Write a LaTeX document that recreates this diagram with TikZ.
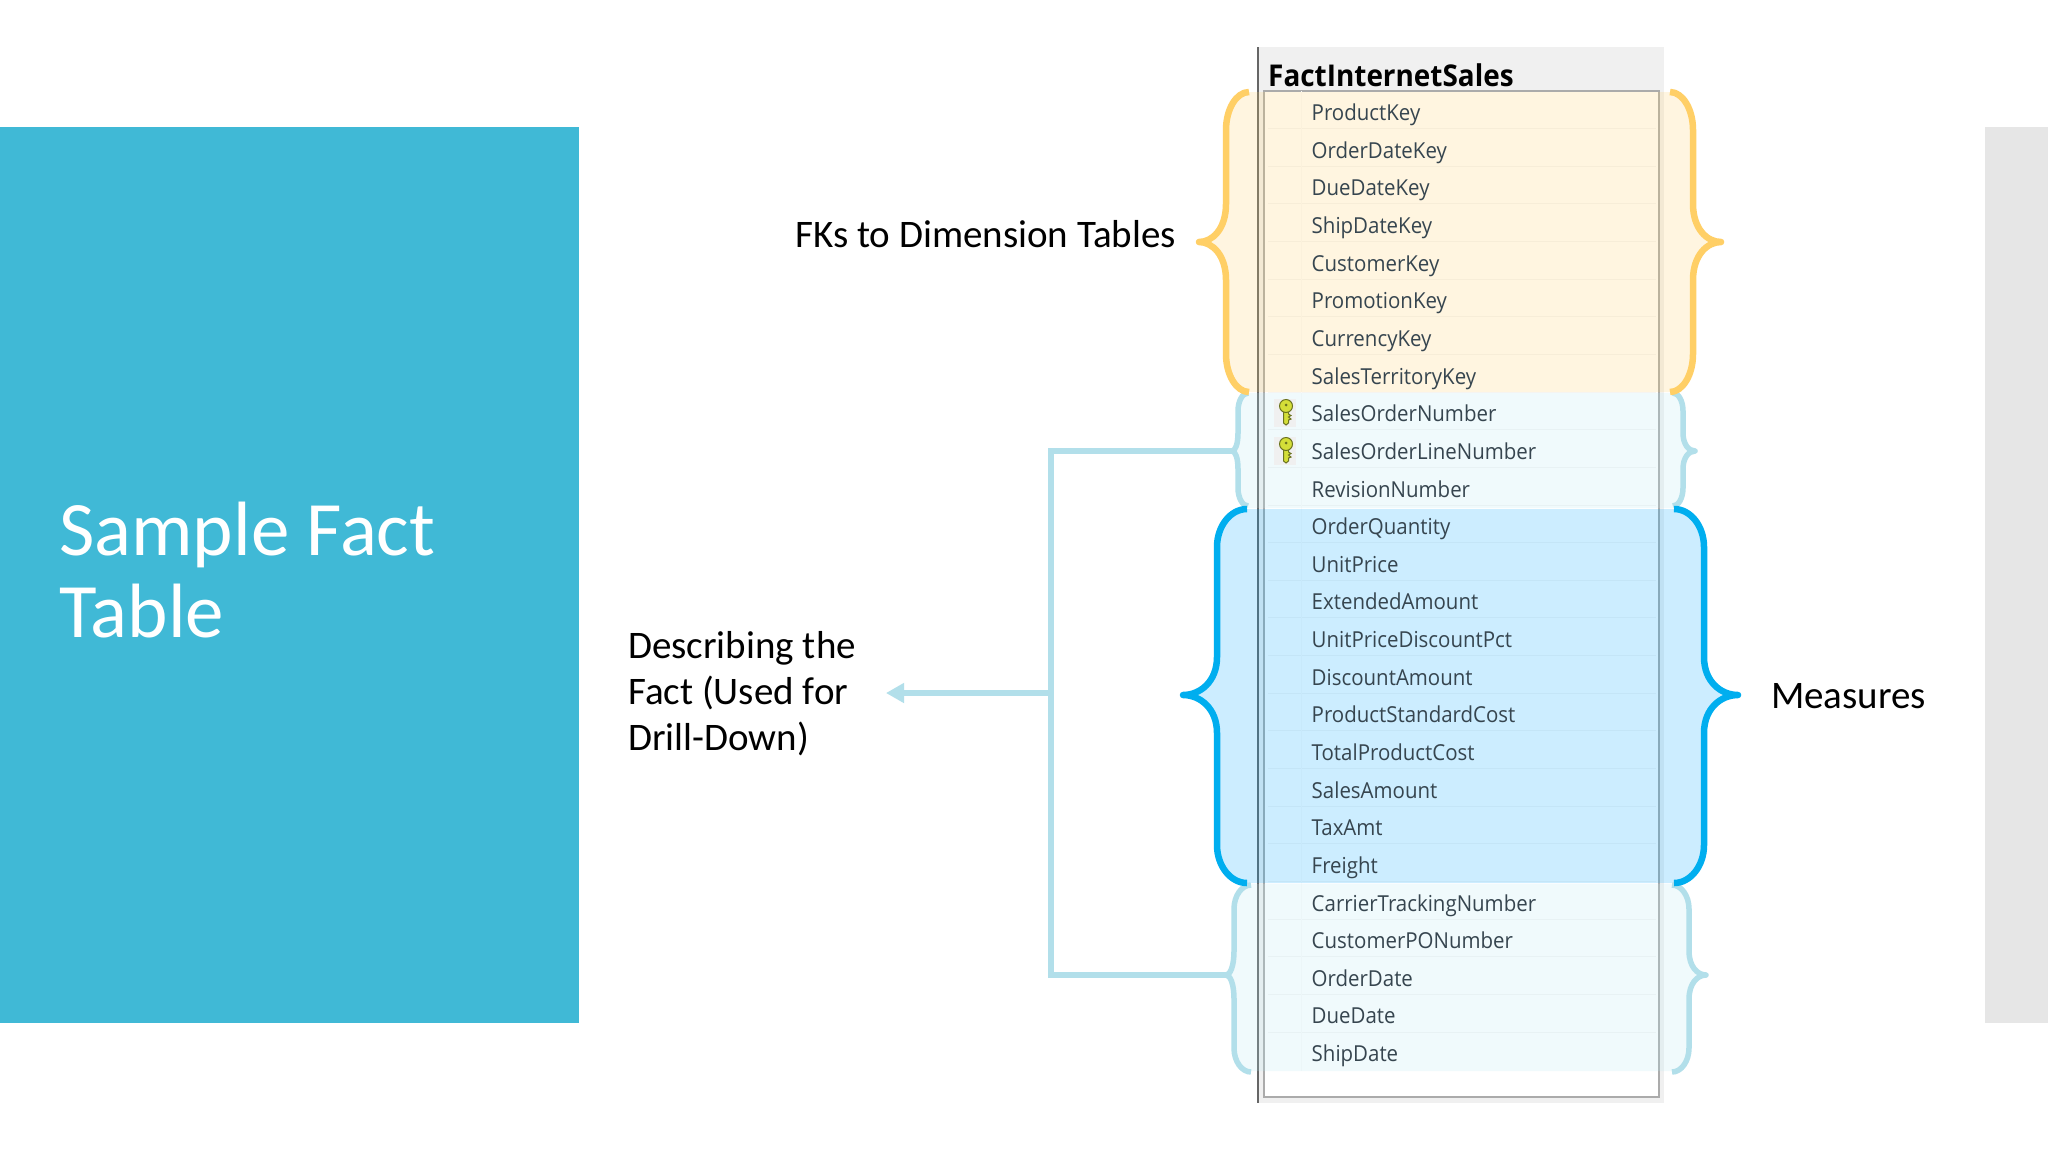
\documentclass[tikz,border=0pt]{standalone}
\usepackage{fontspec}
\setmainfont{Carlito}
\newfontfamily\tablefont[FakeStretch=0.93]{Open Sans}
\usetikzlibrary{arrows.meta}
\definecolor{teal1}{HTML}{40B9D6}
\definecolor{sidegray}{HTML}{E6E6E6}
\definecolor{hdrgray}{HTML}{F0F0F0}
\definecolor{framegray}{HTML}{ABABAB}
\definecolor{oran}{HTML}{FFCF66}
\definecolor{lblue}{HTML}{B2DFEA}
\definecolor{lbluefill}{HTML}{B4E8F3}
\definecolor{sblue}{HTML}{00AEEF}
\definecolor{sbluefill}{HTML}{00A8FF}
\definecolor{rowtxt}{HTML}{36454F}
\definecolor{keyfill}{HTML}{D4DE38}
\definecolor{keyline}{HTML}{6B7320}
% xe, xv, xt, yt, ym, yb, r : from the top end, past the tip, to the bottom end
\newcommand{\bracefrag}[7]{%
 ({#1},{#4}) .. controls ({#1+0.55*(#2-#1)},{#4}) and ({#2},{#4+0.45*(#7)}) .. ({#2},{#4+(#7)})
 -- ({#2},{#5-(#7)}) .. controls ({#2},{#5-0.35*(#7)}) and ({#3+0.5*(#2-#3)},{#5}) .. ({#3},{#5})
 .. controls ({#3+0.5*(#2-#3)},{#5}) and ({#2},{#5+0.35*(#7)}) .. ({#2},{#5+(#7)})
 -- ({#2},{#6-(#7)}) .. controls ({#2},{#6-0.45*(#7)}) and ({#1+0.55*(#2-#1)},{#6}) .. ({#1},{#6})}
\tikzset{
  x=1pt,y=-1pt,
  band/.style={fill=#1,fill opacity=.2,draw=none},
  brace/.style={draw=#1,line width=6.5pt,line cap=butt,line join=round},
  thinbrace/.style={draw=#1,line width=5.5pt,line cap=butt,line join=round},
  rowlabel/.style={anchor=base west,inner sep=0,text=rowtxt,font=\tablefont\fontsize{22}{26}\selectfont},
  biglabel/.style={anchor=base west,inner sep=0,text=black,font=\fontsize{39}{46}\selectfont},
  conn/.style={draw=lblue,line width=5.5pt,line join=miter},
  keybg/.style={fill=black!6,draw=none,minimum width=22pt,minimum height=28pt,inner sep=0},
  pics/keyicon/.style={code={
    \fill[keyfill,draw=keyline,line width=1pt] (-2.5,-1) -- (-2.5,12) -- (0,14) -- (2.5,12) -- (2.5,9) -- (5,8) -- (2.5,6) -- (5,4.5) -- (2.5,3) -- (2.5,-1) -- cycle;
    \fill[keyfill,draw=keyline,line width=1pt] (0,-5) circle[radius=6.5];
    \fill[keyline] (0,-6) circle[radius=1.5];
  }}
}
\begin{document}
\begin{tikzpicture}
\useasboundingbox (0,0) rectangle (2048,1152);
\fill[white] (0,0) rectangle (2048,1152);
\fill[teal1] (0,127) rectangle (579,1023);
\fill[sidegray] (1985,127) rectangle (2048,1023);
\node[anchor=base west,inner sep=0,text=white,font=\fontsize{77}{82}\selectfont] (titleA) at (59,555) {Sample Fact};
\node[anchor=base west,inner sep=0,text=white,font=\fontsize{77}{82}\selectfont] (titleB) at (59,637) {Table};

% table frame
\fill[hdrgray] (1258,47) rectangle (1664,1103);
\fill[white,draw=framegray,line width=1.3pt] (1264,91) rectangle (1659,1097);
\draw[black!60,line width=1.4pt] (1258,47) -- (1258,1103);
\foreach \i in {1,...,25}{
  \draw[black!4,line width=1pt] (1268,{91+37.64*\i}) -- (1656,{91+37.64*\i});
}
\draw[black!2,line width=1pt] (1301,91) -- (1301,1071);
\node[anchor=base west,inner sep=0,text=black,font=\tablefont\bfseries\fontsize{30}{32}\selectfont] (hdr) at (1268,86) {FactInternetSales};

% bands
\fill[band=oran] \bracefrag{1249}{1226}{1199}{92}{242}{392}{38} -- \bracefrag{1670}{1693}{1721}{392}{242}{92}{-38} -- cycle;
\fill[band=lbluefill] \bracefrag{1248}{1238}{1232}{393}{451}{508}{18} -- \bracefrag{1673}{1683}{1695}{508}{451}{393}{-18} -- cycle;
\fill[band=sbluefill] \bracefrag{1247}{1217}{1183}{509}{695}{883}{38} -- \bracefrag{1674}{1704}{1738}{883}{695}{509}{-38} -- cycle;
\fill[band=lbluefill] \bracefrag{1251}{1234}{1226}{884}{975}{1071}{24} -- \bracefrag{1672}{1689}{1706}{1071}{975}{884}{-24} -- cycle;

% connector
\coordinate (upper) at (1234,451);
\coordinate (lower) at (1228,975);
\coordinate (knee1) at (1051,451);
\coordinate (knee2) at (1051,975);
\coordinate (mid) at (1051,693);
\coordinate (arrowend) at (886,693);
\draw[conn] (upper) -- (knee1) -- (knee2) -- (lower);
\draw[conn,-{Triangle[length=18pt,width=19pt,sep=0pt]}] (mid) -- (arrowend);

% braces
\draw[thinbrace=lblue] \bracefrag{1248}{1238}{1232}{393}{451}{506}{18};
\draw[thinbrace=lblue] \bracefrag{1673}{1683}{1695}{393}{451}{506}{18};
\draw[thinbrace=lblue] \bracefrag{1251}{1234}{1226}{885}{975}{1072}{24};
\draw[thinbrace=lblue] \bracefrag{1672}{1689}{1706}{885}{975}{1072}{24};
\draw[brace=oran] \bracefrag{1249}{1226}{1199}{92}{242}{392}{38};
\draw[brace=oran] \bracefrag{1670}{1693}{1721}{92}{242}{392}{38};
\draw[brace=sblue] \bracefrag{1247}{1217}{1183}{509}{695}{883}{38};
\draw[brace=sblue] \bracefrag{1674}{1704}{1738}{509}{695}{883}{38};

% keys
\node[keybg] (kbgA) at (1285,413) {};
\node[keybg] (kbgB) at (1285,451) {};
\pic at (1286,411) {keyicon};
\pic at (1286,449) {keyicon};

% rows
\foreach \n/\t in {0/ProductKey,1/OrderDateKey,2/DueDateKey,3/ShipDateKey,4/CustomerKey,5/PromotionKey,6/CurrencyKey,7/SalesTerritoryKey,8/SalesOrderNumber,9/SalesOrderLineNumber,10/RevisionNumber,11/OrderQuantity,12/UnitPrice,13/ExtendedAmount,14/UnitPriceDiscountPct,15/DiscountAmount,16/ProductStandardCost,17/TotalProductCost,18/SalesAmount,19/TaxAmt,20/Freight,21/CarrierTrackingNumber,22/CustomerPONumber,23/OrderDate,24/DueDate,25/ShipDate}{
  \node[rowlabel] (row\n) at (1311.5,{120.6+37.64*\n}) {\t};
}

% labels
\node[biglabel] (fks) at (795,247) {FKs to Dimension Tables};
\node[biglabel] (meas) at (1771,708) {Measures};
\node[biglabel] (descA) at (628,658) {Describing the};
\node[biglabel] (descB) at (628,704) {Fact (Used for};
\node[biglabel] (descC) at (628,750) {Drill-Down)};
\end{tikzpicture}
\end{document}
